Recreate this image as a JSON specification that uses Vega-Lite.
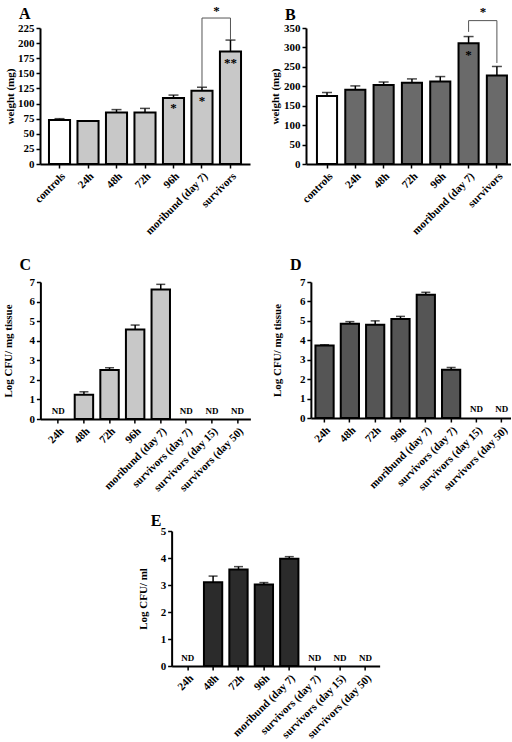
{
  "$schema": "https://vega.github.io/schema/vega-lite/v6.json",
  "background": "white",
  "padding": {"left": 2, "top": 5, "right": 0, "bottom": 0},
  "config": {
    "view": {"stroke": null},
    "font": "Liberation Serif",
    "axis": {"domainColor": "black", "domainWidth": 2, "tickColor": "black", "tickWidth": 1.5, "tickSize": 4, "labelFont": "Liberation Serif", "labelFontWeight": "bold", "labelFontSize": 11, "labelColor": "black", "titleFont": "Liberation Serif", "titleFontWeight": "bold", "titleFontSize": 11, "titleColor": "black", "grid": false, "labelPadding": 2, "labelOverlap": false},
    "title": {"font": "Liberation Serif", "fontSize": 16, "fontWeight": "bold", "anchor": "start", "color": "black", "frame": "group"}
  },
  "datasets": {
    "A": [
      {"cat": "controls", "val": 73, "err": 75},
      {"cat": "24h", "val": 71, "err": null},
      {"cat": "48h", "val": 85, "err": 90},
      {"cat": "72h", "val": 85, "err": 92},
      {"cat": "96h", "val": 109, "err": 114},
      {"cat": "moribund (day 7)", "val": 121, "err": 127},
      {"cat": "survivors", "val": 186, "err": 205}
    ],
    "B": [
      {"cat": "controls", "val": 175, "err": 184},
      {"cat": "24h", "val": 191, "err": 201},
      {"cat": "48h", "val": 203, "err": 211},
      {"cat": "72h", "val": 209, "err": 219},
      {"cat": "96h", "val": 212, "err": 225},
      {"cat": "moribund (day 7)", "val": 311, "err": 328},
      {"cat": "survivors", "val": 228, "err": 251}
    ],
    "C": [
      {"cat": "24h", "val": null, "err": null},
      {"cat": "48h", "val": 1.24, "err": 1.39},
      {"cat": "72h", "val": 2.5, "err": 2.62},
      {"cat": "96h", "val": 4.57, "err": 4.8},
      {"cat": "moribund (day 7)", "val": 6.62, "err": 6.88},
      {"cat": "survivors (day 7)", "val": null, "err": null},
      {"cat": "survivors (day 15)", "val": null, "err": null},
      {"cat": "survivors (day 50)", "val": null, "err": null}
    ],
    "D": [
      {"cat": "24h", "val": 3.73, "err": 3.77},
      {"cat": "48h", "val": 4.85, "err": 4.96},
      {"cat": "72h", "val": 4.8, "err": 5.0},
      {"cat": "96h", "val": 5.1, "err": 5.23},
      {"cat": "moribund (day 7)", "val": 6.35, "err": 6.47},
      {"cat": "survivors (day 7)", "val": 2.48, "err": 2.6},
      {"cat": "survivors (day 15)", "val": null, "err": null},
      {"cat": "survivors (day 50)", "val": null, "err": null}
    ],
    "E": [
      {"cat": "24h", "val": null, "err": null},
      {"cat": "48h", "val": 3.1, "err": 3.33},
      {"cat": "72h", "val": 3.57, "err": 3.68},
      {"cat": "96h", "val": 3.02, "err": 3.09},
      {"cat": "moribund (day 7)", "val": 3.97, "err": 4.05},
      {"cat": "survivors (day 7)", "val": null, "err": null},
      {"cat": "survivors (day 15)", "val": null, "err": null},
      {"cat": "survivors (day 50)", "val": null, "err": null}
    ],
    "notes": [
      {"panel": "A", "cat": "96h", "y": 92, "label": "*"},
      {"panel": "A", "cat": "moribund (day 7)", "y": 104, "label": "*"},
      {"panel": "A", "cat": "survivors", "y": 167, "label": "**"},
      {"panel": "B", "cat": "moribund (day 7)", "y": 280, "label": "*"},
      {"panel": "C", "cat": "24h", "y": 0.4, "label": "ND"},
      {"panel": "C", "cat": "survivors (day 7)", "y": 0.4, "label": "ND"},
      {"panel": "C", "cat": "survivors (day 15)", "y": 0.4, "label": "ND"},
      {"panel": "C", "cat": "survivors (day 50)", "y": 0.4, "label": "ND"},
      {"panel": "D", "cat": "survivors (day 15)", "y": 0.45, "label": "ND"},
      {"panel": "D", "cat": "survivors (day 50)", "y": 0.45, "label": "ND"},
      {"panel": "E", "cat": "24h", "y": 0.3, "label": "ND"},
      {"panel": "E", "cat": "survivors (day 7)", "y": 0.3, "label": "ND"},
      {"panel": "E", "cat": "survivors (day 15)", "y": 0.3, "label": "ND"},
      {"panel": "E", "cat": "survivors (day 50)", "y": 0.3, "label": "ND"}
    ],
    "brackets": [
      {"panel": "A", "cat": "moribund (day 7)", "y": 127, "ord": 1},
      {"panel": "A", "cat": "moribund (day 7)", "y": 241.5, "ord": 2},
      {"panel": "A", "cat": "survivors", "y": 241.5, "ord": 3},
      {"panel": "A", "cat": "survivors", "y": 205, "ord": 4},
      {"panel": "B", "cat": "moribund (day 7)", "y": 340, "ord": 1},
      {"panel": "B", "cat": "moribund (day 7)", "y": 369, "ord": 2},
      {"panel": "B", "cat": "survivors", "y": 369, "ord": 3},
      {"panel": "B", "cat": "survivors", "y": 260, "ord": 4}
    ],
    "sig": [
      {"panel": "A", "cat": "survivors", "y": 253, "label": "*"},
      {"panel": "B", "cat": "survivors", "y": 392, "label": "*"}
    ]
  },
  "spacing": 20,
  "center": true,
  "vconcat": [
    {
      "spacing": 19,
      "hconcat": [
        {
          "width": 210, "height": 136,
          "title": {"text": "A", "dx": -21, "dy": 21},
          "encoding": {"x": {"field": "cat", "type": "nominal", "scale": {"domain": ["controls", "24h", "48h", "72h", "96h", "moribund (day 7)", "survivors"], "paddingInner": 0.26, "paddingOuter": 0.315}, "axis": {"title": null, "labelAngle": -45}}},
          "layer": [
            {"data": {"name": "A"}, "mark": {"type": "bar", "stroke": "black", "strokeWidth": 2},
             "encoding": {"y": {"field": "val", "type": "quantitative", "scale": {"domain": [0, 225], "nice": false}, "axis": {"title": "weight (mg)", "titlePadding": 2, "values": [0, 25, 50, 75, 100, 125, 150, 175, 200, 225]}},
                          "fill": {"condition": {"test": "datum.cat === 'controls'", "value": "white"}, "value": "#c8c8c8"}}},
            {"data": {"name": "A"}, "transform": [{"filter": "isValid(datum.err)"}], "mark": {"type": "rule", "color": "black", "strokeWidth": 1.5},
             "encoding": {"y": {"field": "val", "type": "quantitative", "scale": {"domain": [0, 225], "nice": false}, "axis": {"title": "weight (mg)", "titlePadding": 2, "values": [0, 25, 50, 75, 100, 125, 150, 175, 200, 225]}}, "y2": {"field": "err"}}},
            {"data": {"name": "A"}, "transform": [{"filter": "isValid(datum.err)"}], "mark": {"type": "tick", "color": "black", "thickness": 1.5, "size": 10},
             "encoding": {"y": {"field": "err", "type": "quantitative", "scale": {"domain": [0, 225], "nice": false}, "axis": {"title": "weight (mg)", "titlePadding": 2, "values": [0, 25, 50, 75, 100, 125, 150, 175, 200, 225]}}}},
            {"data": {"name": "notes"}, "transform": [{"filter": "datum.panel === 'A'"}], "mark": {"type": "text", "fontSize": 13, "fontWeight": "bold", "baseline": "middle", "fill": "black"},
             "encoding": {"y": {"field": "y", "type": "quantitative", "scale": {"domain": [0, 225], "nice": false}, "axis": {"title": "weight (mg)", "titlePadding": 2, "values": [0, 25, 50, 75, 100, 125, 150, 175, 200, 225]}}, "text": {"field": "label"}}},
            {"data": {"name": "brackets"}, "transform": [{"filter": "datum.panel === 'A'"}], "mark": {"type": "line", "color": "#555", "strokeWidth": 1},
             "encoding": {"y": {"field": "y", "type": "quantitative", "scale": {"domain": [0, 225], "nice": false}, "axis": {"title": "weight (mg)", "titlePadding": 2, "values": [0, 25, 50, 75, 100, 125, 150, 175, 200, 225]}}, "order": {"field": "ord"}}},
            {"data": {"name": "sig"}, "transform": [{"filter": "datum.panel === 'A'"}], "mark": {"type": "text", "fontSize": 13, "fontWeight": "bold", "baseline": "middle", "dx": -14, "fill": "black"},
             "encoding": {"y": {"field": "y", "type": "quantitative", "scale": {"domain": [0, 225], "nice": false}, "axis": {"title": "weight (mg)", "titlePadding": 2, "values": [0, 25, 50, 75, 100, 125, 150, 175, 200, 225]}}, "text": {"field": "label"}}}
          ]
        },
        {
          "width": 205, "height": 136,
          "title": {"text": "B", "dx": -21, "dy": 21},
          "encoding": {"x": {"field": "cat", "type": "nominal", "scale": {"domain": ["controls", "24h", "48h", "72h", "96h", "moribund (day 7)", "survivors"], "paddingInner": 0.29, "paddingOuter": 0.265, "align": 0.73}, "axis": {"title": null, "labelAngle": -45}}},
          "layer": [
            {"data": {"name": "B"}, "mark": {"type": "bar", "stroke": "black", "strokeWidth": 2},
             "encoding": {"y": {"field": "val", "type": "quantitative", "scale": {"domain": [0, 350], "nice": false}, "axis": {"title": "weight (mg)", "titlePadding": 3.5, "values": [0, 50, 100, 150, 200, 250, 300, 350]}},
                          "fill": {"condition": {"test": "datum.cat === 'controls'", "value": "white"}, "value": "#6a6a6a"}}},
            {"data": {"name": "B"}, "transform": [{"filter": "isValid(datum.err)"}], "mark": {"type": "rule", "color": "black", "strokeWidth": 1.5},
             "encoding": {"y": {"field": "val", "type": "quantitative", "scale": {"domain": [0, 350], "nice": false}, "axis": {"title": "weight (mg)", "titlePadding": 3.5, "values": [0, 50, 100, 150, 200, 250, 300, 350]}}, "y2": {"field": "err"}}},
            {"data": {"name": "B"}, "transform": [{"filter": "isValid(datum.err)"}], "mark": {"type": "tick", "color": "black", "thickness": 1.5, "size": 10},
             "encoding": {"y": {"field": "err", "type": "quantitative", "scale": {"domain": [0, 350], "nice": false}, "axis": {"title": "weight (mg)", "titlePadding": 3.5, "values": [0, 50, 100, 150, 200, 250, 300, 350]}}}},
            {"data": {"name": "notes"}, "transform": [{"filter": "datum.panel === 'B'"}], "mark": {"type": "text", "fontSize": 13, "fontWeight": "bold", "baseline": "middle", "fill": "black"},
             "encoding": {"y": {"field": "y", "type": "quantitative", "scale": {"domain": [0, 350], "nice": false}, "axis": {"title": "weight (mg)", "titlePadding": 3.5, "values": [0, 50, 100, 150, 200, 250, 300, 350]}}, "text": {"field": "label"}}},
            {"data": {"name": "brackets"}, "transform": [{"filter": "datum.panel === 'B'"}], "mark": {"type": "line", "color": "#555", "strokeWidth": 1},
             "encoding": {"y": {"field": "y", "type": "quantitative", "scale": {"domain": [0, 350], "nice": false}, "axis": {"title": "weight (mg)", "titlePadding": 3.5, "values": [0, 50, 100, 150, 200, 250, 300, 350]}}, "order": {"field": "ord"}}},
            {"data": {"name": "sig"}, "transform": [{"filter": "datum.panel === 'B'"}], "mark": {"type": "text", "fontSize": 13, "fontWeight": "bold", "baseline": "middle", "dx": -14, "fill": "black"},
             "encoding": {"y": {"field": "y", "type": "quantitative", "scale": {"domain": [0, 350], "nice": false}, "axis": {"title": "weight (mg)", "titlePadding": 3.5, "values": [0, 50, 100, 150, 200, 250, 300, 350]}}, "text": {"field": "label"}}}
          ]
        }
      ]
    },
    {
      "spacing": 20,
      "center": true,
      "vconcat": [
        {
          "spacing": 20.5,
          "hconcat": [
            {
              "width": 210, "height": 137,
              "title": {"text": "C", "dx": -21, "dy": 1},
              "encoding": {"x": {"field": "cat", "type": "nominal", "scale": {"domain": ["24h", "48h", "72h", "96h", "moribund (day 7)", "survivors (day 7)", "survivors (day 15)", "survivors (day 50)"], "paddingInner": 0.28, "paddingOuter": 0.24, "align": 0.71}, "axis": {"title": null, "labelAngle": -45}}},
              "layer": [
                {"data": {"name": "C"}, "mark": {"type": "bar", "stroke": "black", "strokeWidth": 2, "fill": "#c8c8c8"},
                 "encoding": {"y": {"field": "val", "type": "quantitative", "scale": {"domain": [0, 7], "nice": false}, "axis": {"title": "Log CFU/ mg tissue", "titlePadding": 15.5, "values": [0, 1, 2, 3, 4, 5, 6, 7]}}}},
                {"data": {"name": "C"}, "transform": [{"filter": "isValid(datum.err)"}], "mark": {"type": "rule", "color": "black", "strokeWidth": 1.5},
                 "encoding": {"y": {"field": "val", "type": "quantitative", "scale": {"domain": [0, 7], "nice": false}, "axis": {"title": "Log CFU/ mg tissue", "titlePadding": 15.5, "values": [0, 1, 2, 3, 4, 5, 6, 7]}}, "y2": {"field": "err"}}},
                {"data": {"name": "C"}, "transform": [{"filter": "isValid(datum.err)"}], "mark": {"type": "tick", "color": "black", "thickness": 1.5, "size": 9},
                 "encoding": {"y": {"field": "err", "type": "quantitative", "scale": {"domain": [0, 7], "nice": false}, "axis": {"title": "Log CFU/ mg tissue", "titlePadding": 15.5, "values": [0, 1, 2, 3, 4, 5, 6, 7]}}}},
                {"data": {"name": "notes"}, "transform": [{"filter": "datum.panel === 'C'"}], "mark": {"type": "text", "fontSize": 9, "fontWeight": "bold", "baseline": "middle", "fill": "black"},
                 "encoding": {"y": {"field": "y", "type": "quantitative", "scale": {"domain": [0, 7], "nice": false}, "axis": {"title": "Log CFU/ mg tissue", "titlePadding": 15.5, "values": [0, 1, 2, 3, 4, 5, 6, 7]}}, "text": {"field": "label"}}}
              ]
            },
            {
              "width": 200, "height": 136,
              "title": {"text": "D", "dx": -21, "dy": 1},
              "encoding": {"x": {"field": "cat", "type": "nominal", "scale": {"domain": ["24h", "48h", "72h", "96h", "moribund (day 7)", "survivors (day 7)", "survivors (day 15)", "survivors (day 50)"], "paddingInner": 0.28, "paddingOuter": 0.09, "align": 1}, "axis": {"title": null, "labelAngle": -45}}},
              "layer": [
                {"data": {"name": "D"}, "mark": {"type": "bar", "stroke": "black", "strokeWidth": 2, "fill": "#555555"},
                 "encoding": {"y": {"field": "val", "type": "quantitative", "scale": {"domain": [0, 7], "nice": false}, "axis": {"title": "Log CFU/ mg tissue", "titlePadding": 17, "values": [0, 1, 2, 3, 4, 5, 6, 7]}}}},
                {"data": {"name": "D"}, "transform": [{"filter": "isValid(datum.err)"}], "mark": {"type": "rule", "color": "black", "strokeWidth": 1.5},
                 "encoding": {"y": {"field": "val", "type": "quantitative", "scale": {"domain": [0, 7], "nice": false}, "axis": {"title": "Log CFU/ mg tissue", "titlePadding": 17, "values": [0, 1, 2, 3, 4, 5, 6, 7]}}, "y2": {"field": "err"}}},
                {"data": {"name": "D"}, "transform": [{"filter": "isValid(datum.err)"}], "mark": {"type": "tick", "color": "black", "thickness": 1.5, "size": 9},
                 "encoding": {"y": {"field": "err", "type": "quantitative", "scale": {"domain": [0, 7], "nice": false}, "axis": {"title": "Log CFU/ mg tissue", "titlePadding": 17, "values": [0, 1, 2, 3, 4, 5, 6, 7]}}}},
                {"data": {"name": "notes"}, "transform": [{"filter": "datum.panel === 'D'"}], "mark": {"type": "text", "fontSize": 9, "fontWeight": "bold", "baseline": "middle", "fill": "black"},
                 "encoding": {"y": {"field": "y", "type": "quantitative", "scale": {"domain": [0, 7], "nice": false}, "axis": {"title": "Log CFU/ mg tissue", "titlePadding": 17, "values": [0, 1, 2, 3, 4, 5, 6, 7]}}, "text": {"field": "label"}}}
              ]
            }
          ]
        },
        {
          "width": 208, "height": 135,
          "title": {"text": "E", "dx": -21, "dy": 8},
          "encoding": {"x": {"field": "cat", "type": "nominal", "scale": {"domain": ["24h", "48h", "72h", "96h", "moribund (day 7)", "survivors (day 7)", "survivors (day 15)", "survivors (day 50)"], "paddingInner": 0.28, "paddingOuter": 0.235, "align": 0.58}, "axis": {"title": null, "labelAngle": -45}}},
          "layer": [
            {"data": {"name": "E"}, "mark": {"type": "bar", "stroke": "black", "strokeWidth": 2, "fill": "#2b2b2b"},
             "encoding": {"y": {"field": "val", "type": "quantitative", "scale": {"domain": [0, 5], "nice": false}, "axis": {"title": "Log CFU/ ml", "titlePadding": 12, "values": [0, 1, 2, 3, 4, 5]}}}},
            {"data": {"name": "E"}, "transform": [{"filter": "isValid(datum.err)"}], "mark": {"type": "rule", "color": "black", "strokeWidth": 1.5},
             "encoding": {"y": {"field": "val", "type": "quantitative", "scale": {"domain": [0, 5], "nice": false}, "axis": {"title": "Log CFU/ ml", "titlePadding": 12, "values": [0, 1, 2, 3, 4, 5]}}, "y2": {"field": "err"}}},
            {"data": {"name": "E"}, "transform": [{"filter": "isValid(datum.err)"}], "mark": {"type": "tick", "color": "black", "thickness": 1.5, "size": 9},
             "encoding": {"y": {"field": "err", "type": "quantitative", "scale": {"domain": [0, 5], "nice": false}, "axis": {"title": "Log CFU/ ml", "titlePadding": 12, "values": [0, 1, 2, 3, 4, 5]}}}},
            {"data": {"name": "notes"}, "transform": [{"filter": "datum.panel === 'E'"}], "mark": {"type": "text", "fontSize": 9, "fontWeight": "bold", "baseline": "middle", "fill": "black"},
             "encoding": {"y": {"field": "y", "type": "quantitative", "scale": {"domain": [0, 5], "nice": false}, "axis": {"title": "Log CFU/ ml", "titlePadding": 12, "values": [0, 1, 2, 3, 4, 5]}}, "text": {"field": "label"}}}
          ]
        }
      ]
    }
  ]
}
